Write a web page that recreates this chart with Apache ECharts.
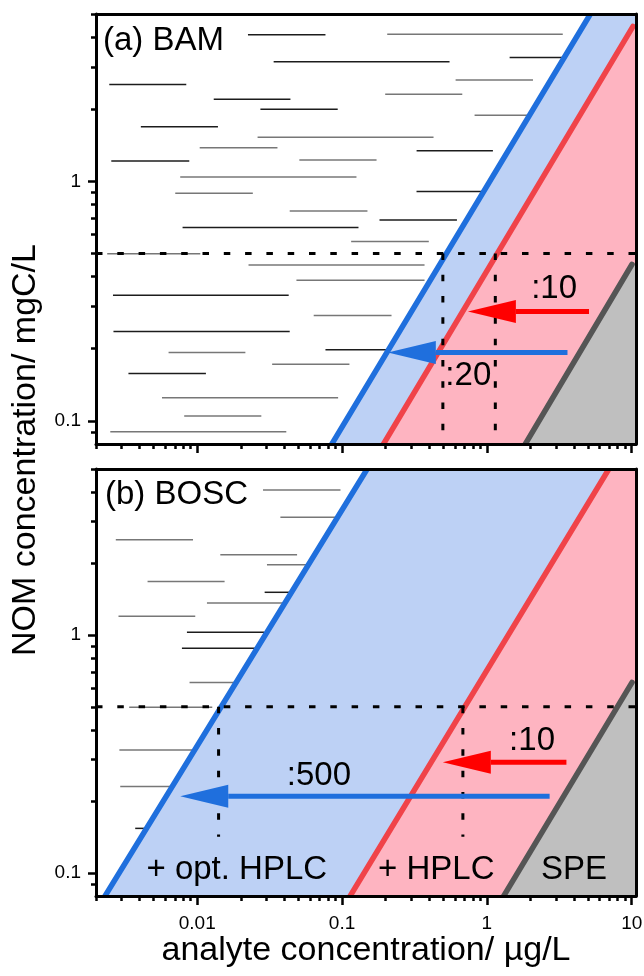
<!DOCTYPE html>
<html>
<head>
<meta charset="utf-8">
<script src="https://cdn.jsdelivr.net/npm/echarts@6/dist/echarts.min.js"></script>
<style>
  html, body { margin: 0; padding: 0; background: #fff; }
  #chart { width: 644px; height: 976px; }
</style>
</head>
<body>
<div id="chart"></div>
<script>
// ---- axis ranges and ticks (analyte µg/L on x, NOM mgC/L on y) ----
const xRange = [0.002, 10.7];
const yRange = [0.08, 5];
const xMajorTicks = [0.01, 0.1, 1, 10];
const xMinorTicks = [0.002, 0.003, 0.004, 0.005, 0.006, 0.007, 0.008, 0.009,
                     0.02, 0.03, 0.04, 0.05, 0.06, 0.07, 0.08, 0.09,
                     0.2, 0.3, 0.4, 0.5, 0.6, 0.7, 0.8, 0.9,
                     2, 3, 4, 5, 6, 7, 8, 9];
const yMajorTicks = [0.1, 1];
const yMinorTicks = [0.09, 0.2, 0.3, 0.4, 0.5, 0.6, 0.7, 0.8, 0.9, 2, 3, 4, 5];

// ---- detection-limit boundaries: [analyte, NOM] start and end ----
const bamOptHplc = [[0.0818, 0.08], [5.18, 5]];
const bamHplc = [[0.186, 0.08], [10.2, 4.44]];
const bamSpe = [[1.773, 0.08], [10.05, 0.4505]];
const boscOptHplc = [[0.00222, 0.08], [0.149, 5]];
const boscHplc = [[0.1094, 0.08], [6.95, 5]];
const boscSpe = [[1.257, 0.08], [10.05, 0.633]];

// ---- reference NOM level and guide drops to the boundaries ----
const nomRef = 0.5;
const bamGuideX = [0.4965, 1.143];
const bamGuideBottom = 0.09;
const boscGuideX = [0.01404, 0.6826];
const boscGuideBottom = 0.142;

// ---- arrows: [tail analyte, tip analyte, NOM, colour: 0 red / 1 blue] ----
const bamArrows = [[5.07, 0.739, 0.286, 0], [3.6, 0.207, 0.193, 1]];
const boscArrows = [[3.54, 0.496, 0.292, 0], [2.71, 0.00763, 0.2104, 1]];

// ---- annotations: [analyte, NOM, text] ----
const bamNotes = [[2.91, 0.354, ':10'], [0.744, 0.154, ':20']];
const boscNotes = [[2.05, 0.36, ':10'], [0.0692, 0.257, ':500'],
                   [0.01876, 0.1026, '+ opt. HPLC'], [0.447, 0.1026, '+ HPLC'],
                   [4.0, 0.1026, 'SPE']];

// ---- sample ranges: [analyte from, analyte to, NOM, shade: 0 black / 1 grey] ----
const bamRanges = [
  [0.0224, 0.0768, 4.10, 0], [0.205, 3.34, 4.12, 1], [0.0337, 0.552, 3.16, 0],
  [1.435, 3.5, 3.29, 0], [0.00247, 0.0084, 2.54, 0], [0.608, 2.08, 2.65, 1],
  [0.0130, 0.0440, 2.20, 0], [0.1985, 0.676, 2.31, 1], [0.0273, 0.0933, 2.00, 0],
  [0.822, 2.0, 1.89, 1], [0.00408, 0.0139, 1.69, 0], [0.0261, 0.428, 1.53, 1],
  [0.0104, 0.0358, 1.38, 1], [0.327, 1.10, 1.343, 0], [0.00255, 0.00881, 1.215, 0],
  [0.0507, 0.173, 1.227, 1], [0.00763, 0.1257, 1.042, 1], [0.00705, 0.0242, 0.891, 1],
  [0.3266, 0.95, 0.906, 0], [0.0435, 0.1497, 0.752, 1], [0.1813, 0.621, 0.690, 0],
  [0.00792, 0.1298, 0.641, 0], [0.1155, 0.397, 0.561, 1], [0.00239, 0.0105, 0.498, 1],
  [0.0226, 0.371, 0.447, 1], [0.0484, 0.371, 0.386, 1], [0.00262, 0.0428, 0.3345, 0],
  [0.0637, 0.2195, 0.275, 1], [0.00264, 0.0435, 0.236, 0], [0.00634, 0.0215, 0.193, 1],
  [0.0768, 0.21, 0.198, 0], [0.0329, 0.1124, 0.1724, 1], [0.00335, 0.01148, 0.1576, 0],
  [0.00571, 0.0939, 0.1247, 1], [0.00813, 0.0277, 0.1046, 1], [0.00251, 0.0412, 0.0900, 1]
];
const boscRanges = [
  [0.02846, 0.0975, 4.08, 1], [0.0375, 0.095, 3.13, 1], [0.00274, 0.00935, 2.52, 1],
  [0.01443, 0.0489, 2.18, 1], [0.0303, 0.06, 1.98, 1], [0.00454, 0.01545, 1.68, 1],
  [0.0292, 0.043, 1.515, 0], [0.01167, 0.039, 1.366, 1], [0.00286, 0.00969, 1.20, 1],
  [0.00849, 0.029, 1.03, 0], [0.00784, 0.025, 0.882, 0], [0.00885, 0.018, 0.633, 1],
  [0.00339, 0.0127, 0.498, 1], [0.0029, 0.0095, 0.329, 1], [0.00294, 0.0066, 0.231, 1],
  [0.00373, 0.0044, 0.154, 0]
];

// ---- styling ----
const FONT = 'Liberation Sans';
const BAND_STYLES = [
  { fill: '#bdd1f5', stroke: '#1f6fdd' },  // + opt. HPLC
  { fill: '#feb4c1', stroke: '#f04349' },  // + HPLC
  { fill: '#bfbfbf', stroke: '#555555' }   // SPE
];
const ARROW_COLORS = ['#ff0000', '#1f6fdd'];
const RANGE_COLORS = ['#1c1c1c', '#777777'];
const fmt = v => String(+Number(v).toPrecision(4));

function xAxes(gi, labelled) {
  const base = { type: 'log', gridIndex: gi, min: xRange[0], max: xRange[1],
                 splitLine: { show: false }, z: 50 };
  return [
    Object.assign({}, base, {
      position: 'bottom',
      axisLine: { show: true, onZero: false, lineStyle: { color: '#000', width: 3 } },
      axisTick: { show: true, customValues: xMajorTicks, length: 9,
                  lineStyle: { color: '#000', width: 2.5 } },
      axisLabel: { show: labelled, customValues: xMajorTicks, margin: 18, fontSize: 19,
                   color: '#000', fontFamily: FONT, formatter: fmt },
      name: labelled ? 'analyte concentration/ µg/L' : '',
      nameLocation: 'middle', nameGap: 38,
      nameTextStyle: { fontSize: 34, color: '#000', fontFamily: FONT }
    }),
    Object.assign({}, base, {
      position: 'bottom',
      axisLine: { show: false },
      axisTick: { show: true, customValues: xMinorTicks, length: 5,
                  lineStyle: { color: '#000', width: 2.5 } },
      axisLabel: { show: false }
    }),
    Object.assign({}, base, {
      position: 'top',
      axisLine: { show: true, onZero: false, lineStyle: { color: '#000', width: 3 } },
      axisTick: { show: false }, axisLabel: { show: false }
    })
  ];
}

function yAxes(gi) {
  const base = { type: 'log', gridIndex: gi, min: yRange[0], max: yRange[1],
                 splitLine: { show: false }, z: 50 };
  return [
    Object.assign({}, base, {
      position: 'left',
      axisLine: { show: true, onZero: false, lineStyle: { color: '#000', width: 3 } },
      axisTick: { show: true, customValues: yMajorTicks, length: 8,
                  lineStyle: { color: '#000', width: 2.5 } },
      axisLabel: { show: true, customValues: yMajorTicks, margin: 15, fontSize: 19,
                   color: '#000', fontFamily: FONT, formatter: fmt }
    }),
    Object.assign({}, base, {
      position: 'left',
      axisLine: { show: false },
      axisTick: { show: true, customValues: yMinorTicks, length: 5,
                  lineStyle: { color: '#000', width: 2.5 } },
      axisLabel: { show: false }
    }),
    Object.assign({}, base, {
      position: 'right',
      axisLine: { show: true, onZero: false, lineStyle: { color: '#000', width: 3 } },
      axisTick: { show: false }, axisLabel: { show: false }
    })
  ];
}

// thin horizontal sample-range segments
function rangeSeries(gi, ranges) {
  return {
    type: 'custom', xAxisIndex: gi * 3, yAxisIndex: gi * 3, z: 1, clip: true,
    data: ranges,
    renderItem: function (params, api) {
      const r = ranges[params.dataIndex];
      const p1 = api.coord([r[0], r[2]]);
      const p2 = api.coord([r[1], r[2]]);
      return { type: 'line',
               shape: { x1: p1[0], y1: p1[1], x2: p2[0], y2: p2[1] },
               style: { stroke: RANGE_COLORS[r[3]], lineWidth: 1.5 } };
    }
  };
}

// shaded regions right of each boundary line, plus the line itself
function bandSeries(gi, lines) {
  return {
    type: 'custom', xAxisIndex: gi * 3, yAxisIndex: gi * 3, z: 2, clip: true,
    data: lines.map(l => [l[0][0], l[0][1], l[1][0], l[1][1]]),
    renderItem: function (params, api) {
      const l = lines[params.dataIndex];
      const st = BAND_STYLES[params.dataIndex];
      const a = api.coord(l[0]);
      const b = api.coord(l[1]);
      const corner = api.coord([xRange[1], yRange[0]]);
      const right = corner[0] + 4;
      return { type: 'group', children: [
        { type: 'polygon',
          shape: { points: [a, b, [right, b[1]], [right, corner[1] + 4], [a[0], corner[1] + 4]] },
          style: { fill: st.fill } },
        { type: 'line',
          shape: { x1: a[0], y1: a[1] + 4, x2: b[0], y2: b[1] },
          style: { stroke: st.stroke, lineWidth: 5.5, lineCap: 'round' } }
      ] };
    }
  };
}

// dotted reference level and the drops to the boundaries
function guideSeries(gi, guideX, bottom) {
  const segs = [[xRange[0], nomRef, xRange[1], nomRef]]
    .concat(guideX.map(x => [x, nomRef, x, bottom]));
  return {
    type: 'custom', xAxisIndex: gi * 3, yAxisIndex: gi * 3, z: 3, clip: true,
    data: segs,
    renderItem: function (params, api) {
      const s = segs[params.dataIndex];
      const p1 = api.coord([s[0], s[1]]);
      const p2 = api.coord([s[2], s[3]]);
      return { type: 'line',
               shape: { x1: p1[0], y1: p1[1], x2: p2[0], y2: p2[1] },
               style: { stroke: '#000', lineWidth: 3, lineDash: [6.5, 14.8] } };
    }
  };
}

// dilution arrows
function arrowSeries(gi, arrows) {
  return {
    type: 'custom', xAxisIndex: gi * 3, yAxisIndex: gi * 3, z: 4, clip: true,
    data: arrows,
    renderItem: function (params, api) {
      const ar = arrows[params.dataIndex];
      const tail = api.coord([ar[0], ar[2]]);
      const tip = api.coord([ar[1], ar[2]]);
      const color = ARROW_COLORS[ar[3]];
      const headLen = 48, headHalf = 11.5;
      const baseX = tip[0] + headLen;
      return { type: 'group', children: [
        { type: 'line', shape: { x1: tail[0], y1: tail[1], x2: baseX, y2: tip[1] },
          style: { stroke: color, lineWidth: 5 } },
        { type: 'polygon',
          shape: { points: [[tip[0], tip[1]], [baseX, tip[1] - headHalf], [baseX, tip[1] + headHalf]] },
          style: { fill: color } }
      ] };
    }
  };
}

// text annotations placed in data coordinates
function noteSeries(gi, notes) {
  return {
    type: 'custom', xAxisIndex: gi * 3, yAxisIndex: gi * 3, z: 5,
    data: notes.map(n => [n[0], n[1]]),
    renderItem: function (params, api) {
      const n = notes[params.dataIndex];
      const p = api.coord([n[0], n[1]]);
      return { type: 'text', x: p[0], y: p[1],
               style: { text: n[2], fontSize: 33, fontFamily: FONT, fill: '#000',
                        align: 'center', verticalAlign: 'middle' } };
    }
  };
}

const chart = echarts.init(document.getElementById('chart'), null, { renderer: 'canvas' });
chart.setOption({
  animation: false,
  backgroundColor: '#fff',
  textStyle: { fontFamily: FONT },
  grid: [
    { left: 96, top: 14, width: 540, height: 430, outerBoundsMode: 'none' },
    { left: 96, top: 469, width: 540, height: 427, outerBoundsMode: 'none' }
  ],
  xAxis: xAxes(0, false).concat(xAxes(1, true)),
  yAxis: yAxes(0).concat(yAxes(1)),
  graphic: [
    { type: 'text', x: 103, y: 41,
      style: { text: '(a) BAM', fontSize: 33, fontFamily: FONT, fill: '#000', verticalAlign: 'middle' } },
    { type: 'text', x: 105, y: 495,
      style: { text: '(b) BOSC', fontSize: 33, fontFamily: FONT, fill: '#000', verticalAlign: 'middle' } },
    { type: 'text', x: 26, y: 450, rotation: Math.PI / 2,
      style: { text: 'NOM concentration/ mgC/L', fontSize: 34, fontFamily: FONT, fill: '#000',
               align: 'center', verticalAlign: 'middle' } }
  ],
  series: [
    rangeSeries(0, bamRanges),
    bandSeries(0, [bamOptHplc, bamHplc, bamSpe]),
    guideSeries(0, bamGuideX, bamGuideBottom),
    arrowSeries(0, bamArrows),
    noteSeries(0, bamNotes),
    rangeSeries(1, boscRanges),
    bandSeries(1, [boscOptHplc, boscHplc, boscSpe]),
    guideSeries(1, boscGuideX, boscGuideBottom),
    arrowSeries(1, boscArrows),
    noteSeries(1, boscNotes)
  ]
});
</script>
</body>
</html>
